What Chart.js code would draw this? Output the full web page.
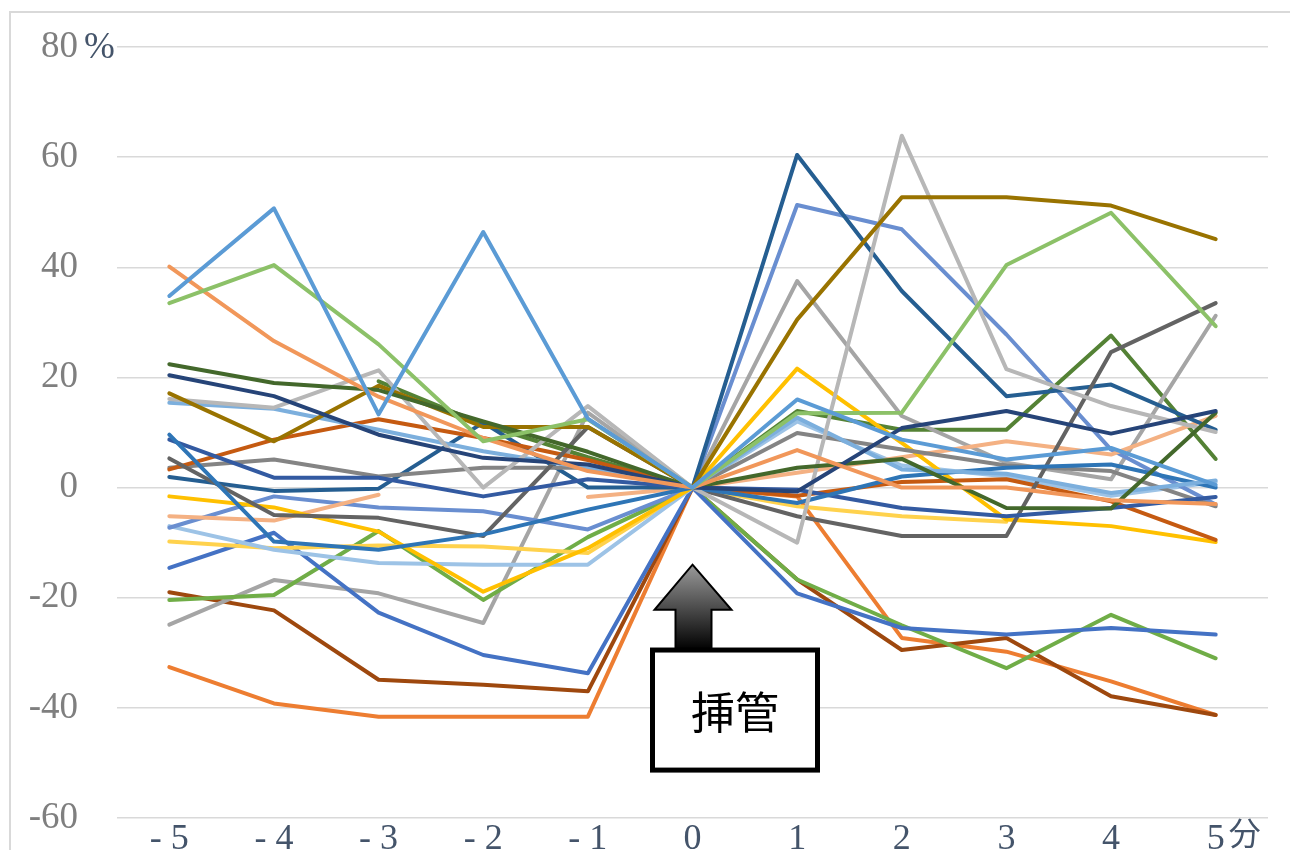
<!DOCTYPE html>
<html>
<head>
<meta charset="utf-8">
<script src="https://cdn.jsdelivr.net/npm/chart.js@4/dist/chart.umd.min.js"></script>
<style>
  html, body { margin: 0; padding: 0; background: #fff; overflow: hidden; }
  #frame { position: absolute; left: 9px; top: 11px; width: 1300px; height: 900px; border: 2px solid #d9d9d9; box-sizing: border-box; }
  #chart { position: absolute; left: 0; top: 0; }
</style>
</head>
<body>
<div id="frame"></div>
<canvas id="chart" width="1290" height="850"></canvas>
<script>
// minutes before / after intubation
var minutes = ['- 5', '- 4', '- 3', '- 2', '- 1', '0', '1', '2', '3', '4', '5'];
var yTicks = [-60, -40, -20, 0, 20, 40, 60, 80];

// change from baseline (%) per case
var case01 = [34.8, 50.7, 13.3, 46.4, 12.5, 0, 16, 8.7, 5.1, 7.2, 0.5];
var case02 = [33.5, 40.4, 26, 8.4, 12.4, 0, 13.5, 13.6, 40.4, 49.9, 29.3];
var case03 = [40.1, 26.6, 16.5, 9, 3, 0, 6.8, 0, 0, -2.3, -3];
var case04 = [20.4, 16.6, 9.6, 5.4, 4.2, 0, -0.7, 10.8, 13.9, 9.8, 13.9];
var case05 = [22.4, 19, 17.7, 12, 6.5, 0, 3.6, 5.2, -3.7, -3.8, 13.6];
var case06 = [17.1, 8.4, 18.5, 11, 11, 0, 30.5, 52.7, 52.7, 51.2, 45.1];
var case07 = [16.1, 14.5, 21.3, 0, 14.8, 0, -10, 63.9, 21.5, 14.8, 10.1];
var case08 = [15.4, 14.3, 10.5, 6.6, 3.5, 0, 12.7, 3.3, 2.5, -1, 1.3];
var case09 = [9.6, -9.8, -11.3, -8.5, -4, 0, -2.8, 2, 3.6, 4.2, 0];
var case10 = [8.7, 1.8, 1.8, -1.6, 1.5, 0, -0.4, -3.7, -5.2, -3.7, -1.7];
var case11 = [5.3, -5, -5.5, -8.8, 11, 0, -5.2, -8.8, -8.8, 24.6, 33.5];
var case12 = [3.3, 8.7, 12.4, 9, 5, 0, -1.5, 1, 1.5, -2.5, -9.5];
var case13 = [3.6, 5.1, 2, 3.6, 3.6, 0, 9.9, 6.9, 4, 3, -3.4];
var case14 = [1.9, -0.6, -0.2, 11.8, 0, 0, 60.4, 35.7, 16.6, 18.7, 10.5];
var case15 = [-1.6, -3.6, -8, -18.9, -11, 0, 21.6, 8.1, -5.8, -7, -9.9];
var case16 = [-5.2, -6, -1.3, null, -1.7, 0, 2.7, 5.5, 8.4, 6, 13];
var case17 = [-7.3, -1.6, -3.6, -4.3, -7.6, 0, 51.3, 46.9, 27.8, 6.9, -3.1];
var case18 = [-7, -11.3, -13.7, -14, -14, 0, 12, 4, 2, -1.5, 1];
var case19 = [-9.8, -11, -10.5, -10.7, -11.9, 0, -3.4, -5.2, -6.2, null, null];
var case20 = [-14.6, -8.2, -22.7, -30.4, -33.7, 0, -19.2, -25.5, -26.7, -25.5, -26.7];
var case21 = [-20.4, -19.5, -7.9, -20.4, -9, 0, -16.7, -25, -32.8, -23.1, -31];
var case22 = [-24.9, -16.8, -19.2, -24.6, 13.6, 0, 37.5, 13, 4.5, 1.5, 31.2];
var case23 = [-19, -22.3, -34.9, -35.8, -37, 0, -16.7, -29.5, -27.3, -37.9, -41.3];
var case24 = [-32.6, -39.2, -41.6, -41.6, -41.6, 0, -1.6, -27.3, -29.8, -35.2, -41.3];
var case25 = [null, null, 19.3, 11.5, 5.5, 0, 13.9, 10.5, 10.5, 27.6, 5.2];

var cases = [case01, case02, case03, case04, case05, case06, case07, case08, case09, case10,
    case11, case12, case13, case14, case15, case16, case17, case18, case19, case20,
    case21, case22, case23, case24, case25];
var colors = ['#5b9bd5', '#8cc168', '#f1975a', '#264478', '#43682b', '#997300', '#b7b7b7', '#7cafdd',
    '#2e75b6', '#335aa1', '#636363', '#c55a11', '#848484', '#255e91', '#ffc000', '#f4b183',
    '#698ed0', '#9dc3e6', '#ffd24d', '#4472c4', '#70ad47', '#a5a5a5', '#9e480e', '#ed7d31', '#548235'];

var datasets = cases.map(function (values, i) {
    return {
        label: 'case' + (i + 1),
        data: values,
        borderColor: colors[i],
        backgroundColor: colors[i],
        borderWidth: 4,
        borderJoinStyle: 'round',
        borderCapStyle: 'round',
        pointRadius: 0,
        tension: 0,
        spanGaps: false
    };
});

// arrow pointing at time 0 with the label box underneath, plus the axis units
var markerPlugin = {
    id: 'intubationMarker',
    afterDatasetsDraw: function (chart) {
        var ctx = chart.ctx;
        var xs = chart.scales.x;
        var ys = chart.scales.y;
        var cx = xs.getPixelForValue(5);
        var tipY = ys.getPixelForValue(-14);
        var headY = ys.getPixelForValue(-22.2);
        var boxTop = ys.getPixelForValue(-29.5);
        var boxBottom = ys.getPixelForValue(-51.3);

        ctx.save();
        // arrow
        var grad = ctx.createLinearGradient(0, tipY, 0, boxTop);
        grad.addColorStop(0, '#9a9a9a');
        grad.addColorStop(1, '#000000');
        ctx.beginPath();
        ctx.moveTo(cx, tipY);
        ctx.lineTo(cx + 39, headY);
        ctx.lineTo(cx + 19, headY);
        ctx.lineTo(cx + 19, boxTop);
        ctx.lineTo(cx - 17, boxTop);
        ctx.lineTo(cx - 17, headY);
        ctx.lineTo(cx - 38, headY);
        ctx.closePath();
        ctx.fillStyle = grad;
        ctx.fill();
        ctx.lineWidth = 2;
        ctx.strokeStyle = '#000';
        ctx.stroke();

        // label box
        var bx = cx - 40;
        var bw = 165;
        ctx.fillStyle = '#fff';
        ctx.fillRect(bx, boxTop, bw, boxBottom - boxTop);
        ctx.lineWidth = 5;
        ctx.strokeStyle = '#000';
        ctx.strokeRect(bx, boxTop, bw, boxBottom - boxTop);
        ctx.fillStyle = '#000';
        ctx.font = '44px "Noto Sans CJK JP"';
        ctx.textAlign = 'center';
        ctx.textBaseline = 'middle';
        ctx.fillText('挿管', bx + bw / 2, (boxTop + boxBottom) / 2 + 2);

        // unit next to the top y tick
        ctx.font = '37px "Liberation Serif"';
        ctx.fillStyle = '#44546a';
        ctx.textAlign = 'left';
        ctx.fillText('%', 84, ys.getPixelForValue(80) + 1);

        // unit after the last x tick
        ctx.font = '32px "Noto Sans CJK JP"';
        ctx.textBaseline = 'top';
        ctx.fillText('分', xs.getPixelForValue(10) + 13, chart.chartArea.bottom - 1);
        ctx.restore();
    }
};

new Chart(document.getElementById('chart').getContext('2d'), {
    type: 'line',
    data: { labels: minutes, datasets: datasets },
    plugins: [markerPlugin],
    options: {
        responsive: false,
        animation: false,
        layout: { padding: { top: 47, right: 22, left: 0, bottom: 0 } },
        plugins: { legend: { display: false }, tooltip: { enabled: false } },
        scales: {
            x: {
                offset: true,
                grid: { display: false, drawTicks: false },
                border: { display: false },
                ticks: {
                    color: '#44546a',
                    font: { family: '"Liberation Serif", "Noto Sans CJK JP"', size: 36 },
                    padding: 0,
                    maxRotation: 0,
                    autoSkip: false
                },
                afterFit: function (scale) {
                    scale.height = 32;
                    scale.paddingLeft = 0;
                    scale.paddingRight = 0;
                }
            },
            y: {
                min: yTicks[0],
                max: yTicks[yTicks.length - 1],
                afterBuildTicks: function (scale) {
                    scale.ticks = yTicks.map(function (v) { return { value: v }; });
                },
                grid: { color: '#d9d9d9', lineWidth: 1.5, drawTicks: false },
                border: { display: false },
                ticks: {
                    color: '#7f7f7f',
                    font: { family: '"Liberation Serif"', size: 37 },
                    padding: 39
                },
                afterFit: function (scale) {
                    scale.width = 117;
                    scale.paddingTop = 0;
                    scale.paddingBottom = 0;
                }
            }
        }
    }
});
</script>
</body>
</html>
